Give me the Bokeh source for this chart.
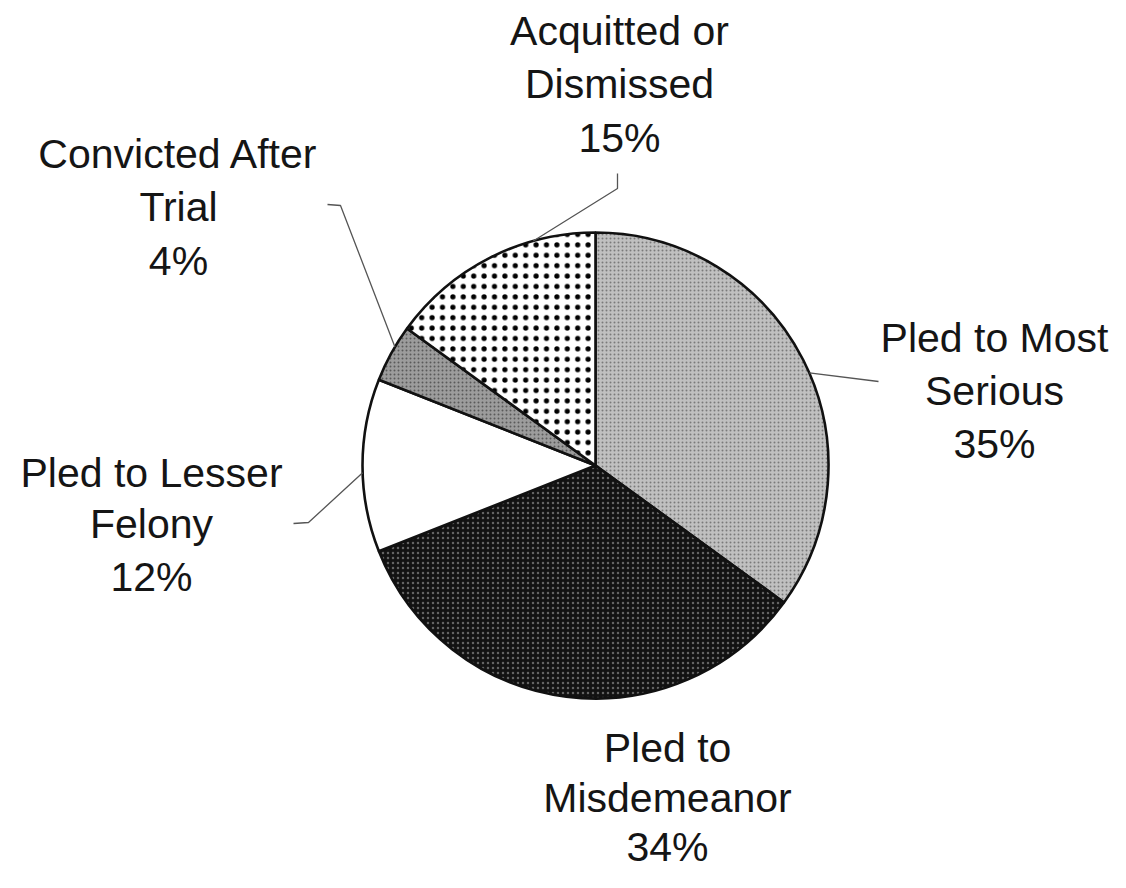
import math
from bokeh.plotting import figure
from bokeh.models import Range1d, ColumnDataSource
from bokeh.core.properties import value
from bokeh.embed import file_html
from bokeh.resources import INLINE

# ---- data ----
categories = ["Pled to Most Serious", "Pled to Misdemeanor", "Pled to Lesser Felony",
              "Convicted After Trial", "Acquitted or Dismissed"]
percents = [35, 34, 12, 4, 15]
label_lines = [["Pled to Most", "Serious"], ["Pled to", "Misdemeanor"],
               ["Pled to Lesser", "Felony"], ["Convicted After", "Trial"],
               ["Acquitted or", "Dismissed"]]

# ---- layout / style (picture pixel coordinates) ----
W, H = 1110, 872
cx, cy, R = 595, 465, 233
fills = ["#c0c0c0", "#121212", "#ffffff", "#9c9c9c", "#ffffff"]
hatches = ["dot", "dot", " ", "dot", "dot"]
hatch_colors = ["#7a7a7a", "#636363", "#ffffff", "#5a5a5a", "#000000"]
hatch_scales = [4, 5, 4, 4, 10.4]
hatch_weights = [1, 1, 1, 1, 4.5]
TEXT_SHIFT = 15  # rendering offset of the alphabetic baseline
label_pos = [(994, [352, 405, 458]), (667, [762, 812, 861]), (151, [487, 538, 591]),
             (178, [168, 221, 275]), (619, [45, 98, 152])]
leader_frac = [0.185, None, 0.745, 0.835, 0.957]
leader_rest = [[(878, 381)], None, [(308, 522), (293, 523)],
               [(340, 205), (327, 204)], [(617, 188), (617, 173)]]

def Y(iy):
    return H - iy

p = figure(width=W, height=H, x_range=Range1d(0, W), y_range=Range1d(0, H),
           output_backend="svg", toolbar_location=None, min_border=0)
p.axis.visible = False
p.grid.visible = False
p.outline_line_color = None
p.background_fill_color = "white"
p.border_fill_color = "white"

total = float(sum(percents))
starts, ends = [], []
cum = 0.0
for v in percents:
    a0 = math.pi / 2 - 2 * math.pi * cum / total
    cum += v
    a1 = math.pi / 2 - 2 * math.pi * cum / total
    starts.append(a0)
    ends.append(a1)

src = ColumnDataSource(dict(x=[cx] * 5, y=[Y(cy)] * 5, start=starts, end=ends,
                            fill=fills, hatch=hatches, hc=hatch_colors,
                            hs=hatch_scales, hw=hatch_weights))
p.wedge(x="x", y="y", radius=R, start_angle="start", end_angle="end", direction="clock",
        fill_color="fill", hatch_pattern="hatch", hatch_color="hc", hatch_scale="hs",
        hatch_weight="hw", line_color="#111111", line_width=2.6, source=src)

# leader lines
for i in range(5):
    if leader_frac[i] is None:
        continue
    ang = math.pi / 2 - 2 * math.pi * leader_frac[i]
    xs = [cx + R * math.cos(ang)] + [pt[0] for pt in leader_rest[i]]
    ys = [Y(cy) + R * math.sin(ang)] + [Y(pt[1]) for pt in leader_rest[i]]
    p.line(xs, ys, line_color="#555555", line_width=1.3)

# labels
tx, ty, tt = [], [], []
for i in range(5):
    lines = label_lines[i] + [f"{percents[i]}%"]
    x0, bls = label_pos[i]
    for ln, bl in zip(lines, bls):
        tx.append(x0)
        ty.append(Y(bl - TEXT_SHIFT))
        tt.append(ln)
p.text(x=tx, y=ty, text=tt, text_font=value("Liberation Sans"), text_font_size="41px",
       text_align="center", text_baseline="alphabetic", text_color="#151515")

open("out.html", "w").write(file_html(p, INLINE))
